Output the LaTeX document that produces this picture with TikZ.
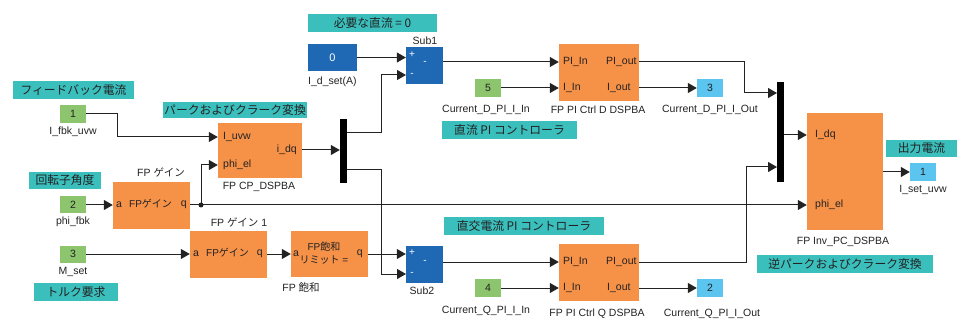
\documentclass[tikz,border=0pt]{standalone}
\usepackage{fontspec}
\setmainfont{Liberation Sans}
\newfontfamily\jpfont{Noto Sans CJK JP}
\usetikzlibrary{arrows.meta}
\definecolor{noteteal}{RGB}{59,191,189}
\definecolor{inportgreen}{RGB}{141,196,110}
\definecolor{outportblue}{RGB}{91,197,240}
\definecolor{constblue}{RGB}{31,104,180}
\definecolor{fporange}{RGB}{246,145,72}
\definecolor{wiregray}{RGB}{34,34,34}
\newcommand{\jtext}[1]{{\jpfont #1}}

\begin{document}
\begin{tikzpicture}[x=1pt, y=-1pt, text=wiregray,
    font=\fontsize{10.5}{12}\selectfont,
    wire/.style={line width=1pt, draw=wiregray, -{Triangle[length=9pt,width=10pt]}},
    note/.style={fill=noteteal, inner sep=0pt, font=\fontsize{11.8}{14}\selectfont\jpfont},
    inport/.style={fill=inportgreen, inner sep=0pt, minimum width=26, minimum height=18},
    outport/.style={fill=outportblue, inner sep=0pt, minimum width=26, minimum height=18},
    fpblock/.style={fill=fporange, inner sep=0pt},
    subblock/.style={fill=constblue, inner sep=0pt, minimum width=37, minimum height=37},
    busbar/.style={fill=black, inner sep=0pt, minimum width=7},
    sign/.style={inner sep=0pt, text=white, font=\fontsize{10}{12}\selectfont},
    port/.style={inner sep=0pt},
    lbl/.style={inner sep=0pt}]
    \useasboundingbox (0,0) rectangle (960,320);

    \node (fbkNote) [note, minimum width=121, minimum height=18] at (73.5,90) {フィードバック電流};
    \node (pcNote) [note, minimum width=144, minimum height=16] at (235,110.5) {パークおよびクラーク変換};
    \node (idNote) [note, minimum width=129, minimum height=18] at (372.5,23) {必要な直流 = 0};
    \node (rotNote) [note, minimum width=72, minimum height=17] at (65,180.5) {回転子角度};
    \node (trqNote) [note, minimum width=84, minimum height=18] at (76,292) {トルク要求};
    \node (dpiNote) [note, minimum width=135, minimum height=18] at (509.5,130) {直流 PI コントローラ};
    \node (qpiNote) [note, minimum width=160, minimum height=18] at (524,226) {直交電流 PI コントローラ};
    \node (outNote) [note, minimum width=71, minimum height=17] at (921.5,148.5) {出力電流};
    \node (invNote) [note, minimum width=176, minimum height=18] at (845,264) {逆パークおよびクラーク変換};

    \node (in1) [inport] at (73,114) {1};
    \node (in2) [inport, minimum height=17] at (73,205) {2};
    \node (in3) [inport, minimum height=17] at (73,254) {3};
    \node (in5) [inport] at (488,88) {5};
    \node (in4) [inport] at (488,288) {4};
    \node (in1Name) [lbl] at (73,132) {I\_fbk\_uvw};
    \node (in2Name) [lbl] at (73,222) {phi\_fbk};
    \node (in3Name) [lbl] at (73,272) {M\_set};
    \node (in5Name) [lbl] at (486,110) {Current\_D\_PI\_I\_In};
    \node (in4Name) [lbl] at (486,311) {Current\_Q\_PI\_I\_In};

    \node (out3) [outport] at (710,88) {3};
    \node (out2) [outport] at (710,288) {2};
    \node (out1) [outport] at (923,172) {1};
    \node (out3Name) [lbl] at (710,110) {Current\_D\_PI\_I\_Out};
    \node (out2Name) [lbl] at (712,314) {Current\_Q\_PI\_I\_Out};
    \node (out1Name) [lbl] at (923,190) {I\_set\_uvw};

    \node (const) [subblock, minimum width=49, minimum height=27] at (332.5,57.5) {};
    \node (constVal) [sign, font=\fontsize{11}{12}\selectfont] at (332.5,58) {0};
    \node (constName) [lbl, anchor=west] at (308,82) {I\_d\_set(A)};

    \node (sub1) [subblock] at (424.5,65.5) {};
    \node (sub1Plus) [sign] at (412,55) {+};
    \node (sub1Minus) [sign] at (412,75) {-};
    \node (sub1Op) [sign] at (425,63) {-};
    \node (sub1Name) [lbl] at (425,41) {Sub1};
    \coordinate (s1m) at (406,75);

    \node (sub2) [subblock] at (424.5,264.5) {};
    \node (sub2Plus) [sign] at (412,253) {+};
    \node (sub2Minus) [sign] at (412,274) {-};
    \node (sub2Op) [sign] at (425,262) {-};
    \node (sub2Name) [lbl] at (422,291) {Sub2};
    \coordinate (s2m) at (406,274);

    \node (gain) [fpblock, minimum width=77, minimum height=47] at (151.5,205.5) {};
    \node (gainA) [port, anchor=west] at (116,205) {a};
    \node (gainQ) [port, anchor=east] at (187,205) {q};
    \node (gainTxt) [port, font=\fontsize{10}{12}\selectfont] at (150.5,204) {FP\jtext{ゲイン}};
    \node (gainName) [lbl] at (161,172) {FP \jtext{ゲイン}};

    \node (gain1) [fpblock, minimum width=77, minimum height=47] at (228.5,254.5) {};
    \node (gain1A) [port, anchor=west] at (193,254) {a};
    \node (gain1Q) [port, anchor=east] at (263,254) {q};
    \node (gain1Txt) [port, font=\fontsize{10}{12}\selectfont] at (227.5,253) {FP\jtext{ゲイン}};
    \node (gain1Name) [lbl] at (239,222) {FP \jtext{ゲイン} 1};

    \node (sat) [fpblock, minimum width=77, minimum height=46] at (329.5,254) {};
    \node (satA) [port, anchor=west] at (293,254) {a};
    \node (satQ) [port, anchor=east] at (363,254) {q};
    \node (satTxt) [port, align=center, font=\fontsize{10}{13}\selectfont] at (324,253) {FP\jtext{飽和}\\\jtext{リミット} =};
    \node (satName) [lbl] at (301,287) {FP \jtext{飽和}};

    \node (cp) [fpblock, minimum width=84, minimum height=55] at (260,150.5) {};
    \node (cpUvw) [port, anchor=west] at (223,137) {I\_uvw};
    \node (cpPhi) [port, anchor=west] at (223,165) {phi\_el};
    \node (cpIdq) [port, anchor=east] at (297,150) {i\_dq};
    \node (cpName) [lbl] at (259,187) {FP CP\_DSPBA};

    \node (pid) [fpblock, minimum width=80, minimum height=57] at (599,72.5) {};
    \node (pidPiIn) [port, anchor=west] at (563,62) {PI\_In};
    \node (pidIIn) [port, anchor=west] at (563,88) {I\_In};
    \node (pidPiOut) [port, anchor=west] at (606,62) {PI\_out};
    \node (pidIOut) [port, anchor=west] at (607,88) {I\_out};
    \node (pidName) [lbl] at (598,110) {FP PI Ctrl D DSPBA};

    \node (piq) [fpblock, minimum width=80, minimum height=57] at (599,272.5) {};
    \node (piqPiIn) [port, anchor=west] at (563,262) {PI\_In};
    \node (piqIIn) [port, anchor=west] at (563,288) {I\_In};
    \node (piqPiOut) [port, anchor=west] at (606,262) {PI\_out};
    \node (piqIOut) [port, anchor=west] at (607,288) {I\_out};
    \node (piqName) [lbl] at (597,314) {FP PI Ctrl Q DSPBA};

    \node (inv) [fpblock, minimum width=76, minimum height=117] at (845,171.5) {};
    \node (invIdq) [port, anchor=west] at (815,135) {I\_dq};
    \node (invPhi) [port, anchor=west] at (815,205) {phi\_el};
    \node (invName) [lbl] at (843,242) {FP Inv\_PC\_DSPBA};

    \node (demux) [busbar, minimum height=64] at (343.5,151) {};
    \coordinate (dmxTop) at (347,133);
    \coordinate (dmxBot) at (347,170);
    \node (mux) [busbar, minimum height=100] at (780.5,132) {};
    \coordinate (muxTop) at (777,93);
    \coordinate (muxBot) at (777,167);
    \coordinate (tap) at (201,205);

    \draw[wire] (in1.east) -- ++(31,0) |- (cp.west |- cpUvw);
    \draw[wire] (in2.east) -- (gain.west |- in2);
    \draw[wire] (gain.east |- gainQ) -- (inv.west |- invPhi);
    \draw[wire] (tap) |- (cp.west |- cpPhi);
    \fill[wiregray] (tap) circle (2.5);
    \draw[wire] (in3.east) -- (gain1.west |- in3);
    \draw[wire] (gain1.east |- in3) -- (sat.west |- in3);
    \draw[wire] (sat.east |- in3) -- (sub2.west |- in3);
    \draw[wire] (cp.east |- cpIdq) -- (demux.west |- cpIdq);
    \draw[wire] (dmxTop) -- ++(34,0) |- (s1m);
    \draw[wire] (dmxBot) -- ++(34,0) |- (s2m);
    \draw[wire] (const.east) -- (sub1.west |- const);
    \draw[wire] (sub1.east |- pidPiIn) -- (pid.west |- pidPiIn);
    \draw[wire] (in5.east) -- (pid.west |- in5);
    \draw[wire] (pid.east |- pidPiOut) -- ++(105,0) |- (muxTop);
    \draw[wire] (pid.east |- pidIOut) -- (out3.west |- pidIOut);
    \draw[wire] (sub2.east |- piqPiIn) -- (piq.west |- piqPiIn);
    \draw[wire] (in4.east) -- (piq.west |- in4);
    \draw[wire] (piq.east |- piqPiOut) -- ++(107,0) |- (muxBot);
    \draw[wire] (piq.east |- piqIOut) -- (out2.west |- piqIOut);
    \draw[wire] (mux.east |- invIdq) -- (inv.west |- invIdq);
    \draw[wire] (inv.east |- out1) -- (out1.west);
\end{tikzpicture}
\end{document}
